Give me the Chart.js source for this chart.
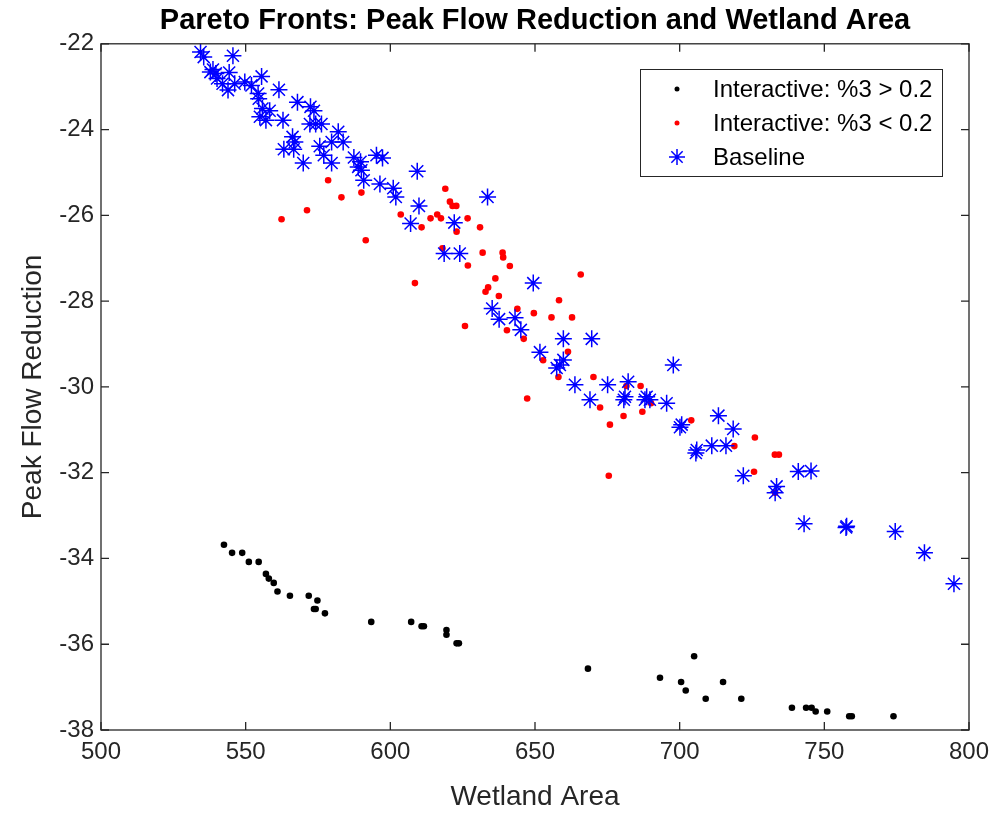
<!DOCTYPE html>
<html>
<head>
<meta charset="utf-8">
<script src="https://cdn.jsdelivr.net/npm/chart.js@4.4.1/dist/chart.umd.min.js"></script>
<style>
  html, body { margin: 0; padding: 0; background: #fff; }
  canvas { display: block; }
</style>
</head>
<body>
<canvas id="pareto" width="994" height="814"></canvas>
<script>
// interactive runs, objective 3 above 0.2
const highX = [542.5, 545.3, 548.8, 551.1, 554.5, 557.0, 558.0, 559.7, 561.0, 565.3,
  571.8, 574.8, 573.6, 574.2, 577.4, 593.4, 607.2, 610.8, 611.6, 619.4,
  619.4, 622.9, 623.7, 668.3, 705.0, 693.2, 700.5, 702.1, 709.0, 715.0,
  721.3, 738.8, 743.7, 745.6, 747.0, 751.0, 758.6, 759.5, 773.9];
const highY = [-33.68, -33.87, -33.87, -34.08, -34.08, -34.36, -34.47, -34.57, -34.77, -34.87,
  -34.87, -34.98, -35.18, -35.18, -35.28, -35.48, -35.48, -35.58, -35.58, -35.67,
  -35.78, -35.98, -35.98, -36.57, -36.28, -36.78, -36.88, -37.08, -37.27, -36.88,
  -37.27, -37.48, -37.48, -37.48, -37.57, -37.57, -37.68, -37.68, -37.68];

// interactive runs, objective 3 below 0.2
const lowX = [578.5, 583.1, 590.0, 571.2, 562.4, 591.5, 603.6, 610.8, 613.9, 616.2,
  617.5, 619.0, 620.6, 621.5, 622.8, 622.9, 626.7, 631.0, 618.0, 626.8,
  631.9, 638.8, 639.0, 641.3, 636.3, 608.5, 633.8, 632.9, 637.5, 643.9,
  649.6, 655.7, 662.8, 665.8, 658.3, 625.8, 640.3, 646.1, 661.4, 652.8,
  658.1, 670.2, 647.3, 681.6, 686.5, 672.5, 675.9, 680.6, 687.1, 690.1,
  704.0, 718.9, 726.0, 732.9, 734.3, 725.7, 675.5, 733.0];
const lowY = [-25.18, -25.58, -25.47, -25.88, -26.09, -26.58, -25.98, -26.28, -26.07, -25.98,
  -26.07, -25.38, -25.68, -25.78, -25.78, -26.38, -26.07, -26.28, -26.77, -27.17,
  -26.87, -26.87, -26.98, -27.18, -27.47, -27.58, -27.68, -27.78, -27.88, -28.18,
  -28.28, -28.38, -28.38, -27.38, -27.98, -28.58, -28.68, -28.88, -29.18, -29.38,
  -29.77, -29.77, -30.27, -29.98, -29.98, -30.48, -30.88, -30.68, -30.58, -30.38,
  -30.78, -31.38, -31.18, -31.58, -31.58, -31.98, -32.07, -32.47];

// baseline front
const baseX = [534.4, 535.5, 545.6, 538.7, 537.8, 539.7, 544.3, 540.1, 542.0, 543.9,
  546.2, 549.7, 552.0, 555.5, 554.3, 554.5, 555.8, 558.3, 554.9, 557.0,
  561.5, 562.9, 567.9, 572.4, 573.6, 572.2, 574.2, 576.2, 582.0, 579.7,
  583.7, 575.6, 577.0, 579.7, 566.2, 567.0, 563.2, 566.6, 569.9, 587.4,
  588.9, 589.7, 590.0, 590.8, 595.2, 597.3, 596.4, 601.0, 601.9, 609.3,
  609.9, 607.0, 622.1, 633.6, 618.6, 624.0, 649.4, 635.2, 637.6, 643.1,
  645.1, 651.7, 659.8, 669.6, 659.8, 658.6, 657.5, 663.8, 675.1, 682.2,
  681.1, 688.6, 669.0, 697.8, 680.7, 688.0, 689.7, 695.5, 700.1, 700.7,
  705.9, 705.6, 711.1, 716.0, 713.4, 718.5, 722.0, 733.5, 733.0, 741.0,
  745.4, 743.0, 757.5, 757.7, 774.5, 784.6, 794.8];
const baseY = [-22.19, -22.31, -22.28, -22.60, -22.66, -22.69, -22.67, -22.81, -22.93, -23.08,
  -22.93, -22.89, -22.97, -22.76, -23.16, -23.28, -23.51, -23.56, -23.70, -23.78,
  -23.07, -23.78, -23.36, -23.47, -23.56, -23.87, -23.87, -23.87, -24.05, -24.29,
  -24.29, -24.39, -24.60, -24.78, -24.17, -24.29, -24.46, -24.46, -24.78, -24.65,
  -24.87, -24.75, -24.95, -25.18, -24.60, -24.66, -25.27, -25.37, -25.57, -24.97,
  -25.78, -26.19, -26.17, -25.57, -26.89, -26.89, -27.58, -28.17, -28.42, -28.39,
  -28.67, -29.19, -28.88, -28.88, -29.37, -29.49, -29.56, -29.95, -29.95, -29.88,
  -30.23, -30.23, -30.30, -29.49, -30.30, -30.30, -30.30, -30.38, -30.94, -30.88,
  -31.47, -31.54, -31.37, -31.37, -30.67, -30.98, -32.07, -32.32, -32.47, -31.97,
  -31.96, -33.19, -33.28, -33.25, -33.37, -33.87, -34.59];

const xTicks = [500, 550, 600, 650, 700, 750, 800];
const yTicks = [-38, -36, -34, -32, -30, -28, -26, -24, -22];

const FONT = '"Liberation Sans", Arial, Helvetica, sans-serif';
const AXIS_COLOR = '#262626';

const toPoints = (xs, ys) => xs.map((x, i) => ({ x: x, y: ys[i] }));

// box around the axes with inward tick marks on all four sides
const axesBox = {
  id: 'axesBox',
  afterDatasetsDraw(chart) {
    const { ctx, chartArea: a, scales } = chart;
    const len = 8;
    ctx.save();
    ctx.strokeStyle = AXIS_COLOR;
    ctx.lineWidth = 1.3;
    ctx.beginPath();
    xTicks.forEach((v) => {
      const px = scales.x.getPixelForValue(v);
      ctx.moveTo(px, a.bottom); ctx.lineTo(px, a.bottom - len);
      ctx.moveTo(px, a.top); ctx.lineTo(px, a.top + len);
    });
    yTicks.forEach((v) => {
      const py = scales.y.getPixelForValue(v);
      ctx.moveTo(a.left, py); ctx.lineTo(a.left + len, py);
      ctx.moveTo(a.right, py); ctx.lineTo(a.right - len, py);
    });
    ctx.stroke();
    ctx.strokeRect(a.left, a.top, a.right - a.left, a.bottom - a.top);
    ctx.restore();
  }
};

// legend box in the upper right corner of the axes
const boxLegend = {
  id: 'boxLegend',
  afterDraw(chart) {
    const { ctx } = chart;
    const left = 640, top = 69, w = 302, h = 107;
    const rows = [89, 123, 157];
    ctx.save();
    ctx.fillStyle = '#fff';
    ctx.fillRect(left, top, w, h);
    ctx.strokeStyle = AXIS_COLOR;
    ctx.lineWidth = 1;
    ctx.strokeRect(left + 0.5, top + 0.5, w, h);
    ctx.font = '24px ' + FONT;
    ctx.textBaseline = 'middle';
    ctx.textAlign = 'left';
    chart.data.datasets.forEach((ds, i) => {
      const y = rows[i];
      const mx = 677;
      if (ds.pointStyle === 'star') {
        const r = 8, d = r * Math.SQRT1_2;
        ctx.strokeStyle = ds.borderColor;
        ctx.lineWidth = 1.5;
        ctx.beginPath();
        ctx.moveTo(mx - r, y); ctx.lineTo(mx + r, y);
        ctx.moveTo(mx, y - r); ctx.lineTo(mx, y + r);
        ctx.moveTo(mx - d, y - d); ctx.lineTo(mx + d, y + d);
        ctx.moveTo(mx - d, y + d); ctx.lineTo(mx + d, y - d);
        ctx.stroke();
      } else {
        ctx.fillStyle = ds.backgroundColor;
        ctx.beginPath();
        ctx.arc(mx, y, 2.5, 0, Math.PI * 2);
        ctx.fill();
      }
      ctx.fillStyle = '#000';
      ctx.fillText(ds.label, 713, y + 1);
    });
    ctx.restore();
  }
};

new Chart(document.getElementById('pareto'), {
  type: 'scatter',
  data: {
    datasets: [
      {
        label: 'Interactive: %3 > 0.2',
        data: toPoints(highX, highY),
        pointStyle: 'circle',
        pointRadius: 3.3,
        borderWidth: 0,
        backgroundColor: '#000000',
        borderColor: '#000000',
        order: 3
      },
      {
        label: 'Interactive: %3 < 0.2',
        data: toPoints(lowX, lowY),
        pointStyle: 'circle',
        pointRadius: 3.3,
        borderWidth: 0,
        backgroundColor: '#ff0000',
        borderColor: '#ff0000',
        order: 2
      },
      {
        label: 'Baseline',
        data: toPoints(baseX, baseY),
        pointStyle: 'star',
        pointRadius: 8.5,
        borderWidth: 1.5,
        backgroundColor: '#0000ff',
        borderColor: '#0000ff',
        order: 1
      }
    ]
  },
  options: {
    responsive: false,
    devicePixelRatio: 1,
    animation: false,
    events: [],
    layout: { padding: { left: 0, right: 25, top: 0, bottom: 0 } },
    plugins: {
      legend: { display: false },
      tooltip: { enabled: false },
      title: {
        display: true,
        fullSize: false,
        text: 'Pareto Fronts: Peak Flow Reduction and Wetland Area',
        color: '#000',
        font: { family: FONT, size: 29, weight: 'bold', lineHeight: 1.2 },
        padding: { top: 4, bottom: 5 }
      }
    },
    scales: {
      x: {
        type: 'linear',
        min: 500,
        max: 800,
        afterFit: (s) => { s.height = 84; s.paddingLeft = 0; s.paddingRight = 0; },
        afterBuildTicks: (s) => { s.ticks = xTicks.map((v) => ({ value: v })); },
        grid: { display: false, drawTicks: false },
        border: { display: false },
        ticks: { color: AXIS_COLOR, padding: 8, font: { family: FONT, size: 24 } },
        title: {
          display: true,
          text: 'Wetland Area',
          color: AXIS_COLOR,
          font: { family: FONT, size: 28, lineHeight: 1.2 },
          padding: { top: 0, bottom: 0 }
        }
      },
      y: {
        type: 'linear',
        min: -38,
        max: -22,
        afterFit: (s) => { s.width = 101; },
        afterBuildTicks: (s) => { s.ticks = yTicks.map((v) => ({ value: v })); },
        grid: { display: false, drawTicks: false },
        border: { display: false },
        ticks: { color: AXIS_COLOR, padding: 7, font: { family: FONT, size: 24 } },
        title: {
          display: true,
          text: 'Peak Flow Reduction',
          color: AXIS_COLOR,
          font: { family: FONT, size: 28, lineHeight: 1.2 },
          padding: { top: 16, bottom: 0 }
        }
      }
    }
  },
  plugins: [axesBox, boxLegend]
});
</script>
</body>
</html>
